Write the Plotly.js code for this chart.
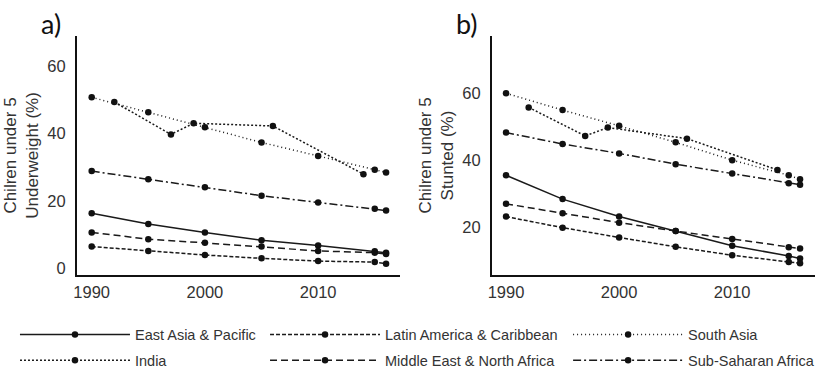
<!DOCTYPE html>
<html>
<head>
<meta charset="utf-8">
<script src="https://cdn.plot.ly/plotly-3.0.1.min.js"></script>
<style>html,body{margin:0;padding:0;background:#fff;}#chart{width:818px;height:370px;}</style>
</head>
<body>
<div id="chart"></div>
<script>
// ---- data ----
const years = [1990, 1995, 2000, 2005, 2010, 2015, 2016];
const indiaYears = [1992, 1997, 1999, 2006, 2014];
const xTickVals = [1990, 2000, 2010];
const yTickValsA = [0, 20, 40, 60];
const yTickValsB = [20, 40, 60];

const seriesNames = ["East Asia & Pacific", "India", "Latin America & Caribbean",
                     "Middle East & North Africa", "South Asia", "Sub-Saharan Africa"];

// a) underweight (%)
const uwEastAsia   = [16.4, 13.2, 10.7, 8.4, 6.8, 5.1, 4.7];
const uwIndia      = [49.4, 39.8, 43.1, 42.3, 28.0];
const uwLatAm      = [6.5, 5.2, 4.0, 3.0, 2.2, 1.9, 1.4];
const uwMENA       = [10.7, 8.7, 7.6, 6.5, 5.2, 4.7, 4.3];
const uwSouthAsia  = [50.8, 46.4, 41.9, 37.4, 33.4, 29.3, 28.5];
const uwSSA        = [28.9, 26.5, 24.1, 21.6, 19.6, 17.7, 17.2];

// b) stunted (%)
const stEastAsia   = [35.6, 28.5, 23.3, 19.0, 14.6, 11.6, 10.8];
const stIndia      = [55.8, 47.3, 49.8, 46.5, 37.2];
const stLatAm      = [23.3, 20.0, 17.1, 14.3, 11.8, 9.8, 9.4];
const stMENA       = [27.1, 24.3, 21.5, 19.0, 16.6, 14.2, 13.8];
const stSouthAsia  = [60.0, 55.0, 50.3, 45.4, 40.1, 35.6, 34.4];
const stSSA        = [48.3, 44.9, 42.1, 38.9, 36.1, 33.2, 32.8];

// ---- styles ----
const FONT = "Liberation Sans, Arial, sans-serif";
const styles = {
  "East Asia & Pacific":        {dash: "solid",               legend: "legend"},
  "India":                      {dash: "2px,2px",             legend: "legend"},
  "Latin America & Caribbean":  {dash: "4px,2px",             legend: "legend2"},
  "Middle East & North Africa": {dash: "7px,4px",             legend: "legend2"},
  "South Asia":                 {dash: "1px,3px",             legend: "legend3"},
  "Sub-Saharan Africa":         {dash: "8px,3px,2px,3px",     legend: "legend3"}
};

const dataA = {
  "East Asia & Pacific": [years, uwEastAsia],
  "India": [indiaYears, uwIndia],
  "Latin America & Caribbean": [years, uwLatAm],
  "Middle East & North Africa": [years, uwMENA],
  "South Asia": [years, uwSouthAsia],
  "Sub-Saharan Africa": [years, uwSSA]
};
const dataB = {
  "East Asia & Pacific": [years, stEastAsia],
  "India": [indiaYears, stIndia],
  "Latin America & Caribbean": [years, stLatAm],
  "Middle East & North Africa": [years, stMENA],
  "South Asia": [years, stSouthAsia],
  "Sub-Saharan Africa": [years, stSSA]
};

const traces = [];
seriesNames.forEach(function(name) {
  const st = styles[name];
  const common = {
    type: "scatter", mode: "lines+markers", name: name, legendgroup: name,
    line: {color: "#1a1a1a", width: 1.5, dash: st.dash},
    marker: {color: "#111", size: 6.5, symbol: "circle"},
    hoverinfo: "x+y+name"
  };
  traces.push(Object.assign({}, common, {
    x: dataA[name][0], y: dataA[name][1], xaxis: "x", yaxis: "y",
    showlegend: true, legend: st.legend
  }));
  traces.push(Object.assign({}, common, {
    x: dataB[name][0], y: dataB[name][1], xaxis: "x2", yaxis: "y2",
    showlegend: false, legend: st.legend
  }));
});

const axisCommon = {
  showline: true, linecolor: "#111", linewidth: 2, showgrid: false, zeroline: false,
  ticks: "", tickfont: {family: FONT, size: 16.5, color: "#333"}, fixedrange: true
};
const legendCommon = {
  orientation: "v", xanchor: "left", yanchor: "top", y: 0.139,
  itemwidth: 110, tracegroupgap: 4, bgcolor: "rgba(0,0,0,0)", borderwidth: 0,
  font: {family: FONT, size: 14.5, color: "#333"}
};

const layout = {
  width: 818, height: 370,
  margin: {l: 0, r: 0, t: 0, b: 0, autoexpand: false},
  paper_bgcolor: "#fff", plot_bgcolor: "#fff",
  showlegend: true,
  xaxis: Object.assign({}, axisCommon, {domain: [0.0941, 0.489], range: [1988.70, 2017.23],
    tickvals: xTickVals, anchor: "y", ticklabelstandoff: 1}),
  yaxis: Object.assign({}, axisCommon, {domain: [0.2568, 0.9027], range: [-1.93, 69.0],
    tickvals: yTickValsA, anchor: "x", ticklabelstandoff: 6,
    title: {text: "Chilren under 5<br>Underweight (%)", standoff: 4,
            font: {family: FONT, size: 17, color: "#333"}}}),
  xaxis2: Object.assign({}, axisCommon, {domain: [0.6015, 0.9963], range: [1988.76, 2017.32],
    tickvals: xTickVals, anchor: "y2", ticklabelstandoff: 1}),
  yaxis2: Object.assign({}, axisCommon, {domain: [0.2568, 0.9027], range: [5.92, 77.05],
    tickvals: yTickValsB, anchor: "x2", ticklabelstandoff: 6,
    title: {text: "Chilren under 5<br>Stunted (%)", standoff: 4,
            font: {family: FONT, size: 17, color: "#333"}}}),
  legend: Object.assign({}, legendCommon, {x: 0.0183}),
  legend2: Object.assign({}, legendCommon, {x: 0.324}),
  legend3: Object.assign({}, legendCommon, {x: 0.6945}),
  annotations: [
    {text: "a)", xref: "paper", yref: "paper", x: 0.0623, y: 0.9378, xanchor: "center", yanchor: "middle",
     showarrow: false, font: {family: "Lato, Open Sans, sans-serif", size: 27, color: "#111"}},
    {text: "b)", xref: "paper", yref: "paper", x: 0.5709, y: 0.9378, xanchor: "center", yanchor: "middle",
     showarrow: false, font: {family: "Lato, Open Sans, sans-serif", size: 27, color: "#111"}}
  ]
};

Plotly.newPlot("chart", traces, layout, {displayModeBar: false, staticPlot: false});
</script>
</body>
</html>
